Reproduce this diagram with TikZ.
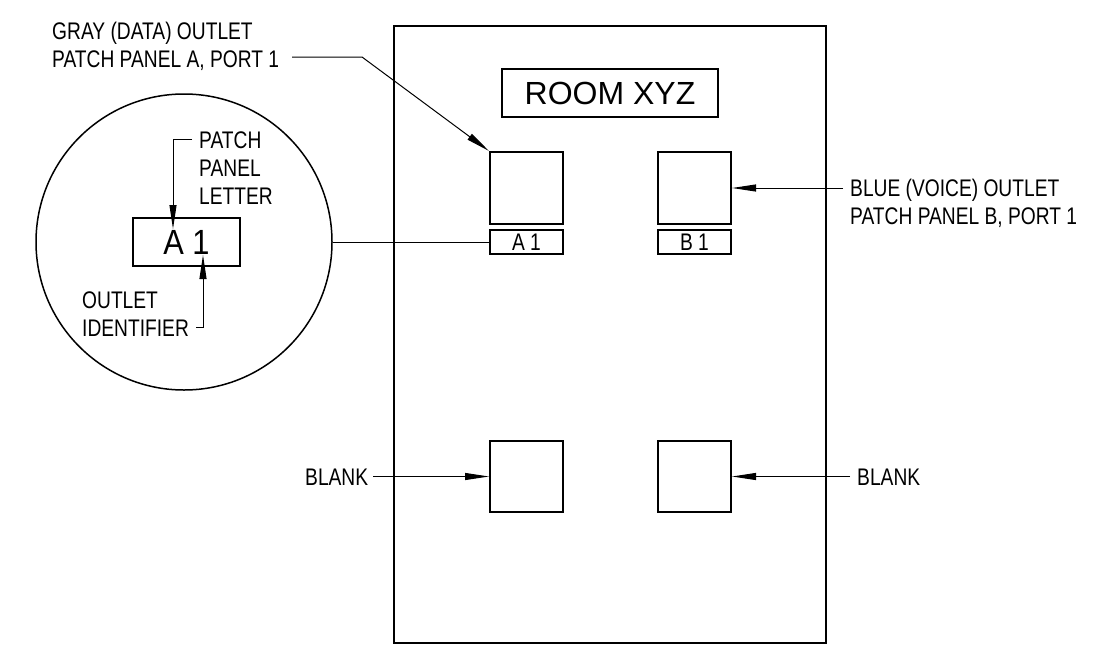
\documentclass[tikz,border=0pt]{standalone}
\usepackage{fontspec}
\setmainfont{Liberation Sans}
\newfontfamily\narrowfont[FakeStretch=0.8]{Liberation Sans}
\newfontfamily\tagfont[FakeStretch=0.88]{Liberation Sans}
\usetikzlibrary{arrows.meta, positioning, calc}
\tikzset{
  outlet/.style={
    draw,
    line width=2pt,
    minimum width=73pt,
    minimum height=72pt,
    inner sep=0pt
  },
  tag/.style={
    draw,
    line width=1.3pt,
    minimum width=73pt,
    minimum height=24pt,
    inner sep=0pt,
    font=\fontsize{24}{28}\selectfont\narrowfont
  },
  callout/.style={
    inner sep=0pt,
    align=left,
    anchor=base west,
    font=\fontsize{24}{28}\selectfont\narrowfont
  },
  leader/.style={
    line width=1pt
  },
  pointer/.style={
    leader,
    -{Triangle[length=24pt,width=7pt]}
  }
}

\begin{document}
\begin{tikzpicture}[x=1pt, y=-1pt]
  \useasboundingbox (0,0) rectangle (1099,648);
  % room plate
  \node[draw, line width=2pt, minimum width=432pt, minimum height=617pt, inner sep=0pt] (room) at (610,334.5) {};
  \node[draw, line width=1.3pt, minimum width=216pt, minimum height=48pt, inner sep=0pt,
        font=\fontsize{32}{36}\selectfont] (roomname) at (610,93) {ROOM XYZ};
  \node[outlet] (outA) at (526.5,188) {};
  \node[outlet] (outB) at (694.5,188) {};
  \node[tag] (tagA) at (526.5,242) {A 1};
  \node[tag] (tagB) at (694.5,242) {B 1};
  \node[outlet, minimum height=71pt] (blankA) at (526.5,476.5) {};
  \node[outlet, minimum height=71pt] (blankB) at (694.5,476.5) {};

  % detail circle
  \node[draw, circle, line width=1.5pt, minimum size=296pt, inner sep=0pt] (detail) at (184,242) {};
  \node[draw, line width=1.3pt, minimum width=107pt, minimum height=48pt, inner sep=0pt,
        font=\fontsize{35}{40}\selectfont\tagfont] (bigtag) at (186.5,242) {A 1};
  \draw[leader] (detail.east) -- (tagA.west);

  \node[callout] (letterLbl) at (199,204) {PATCH\\PANEL\\LETTER};
  \coordinate (letterEnd) at (192,139.5);
  \coordinate (letterBend) at (173,139.5);
  \coordinate (letterTip) at (173,229);
  \draw[pointer] (letterEnd) -- (letterBend) -- (letterTip);

  \node[callout] (identLbl) at (82,336) {OUTLET\\IDENTIFIER};
  \coordinate (identEnd) at (196,327);
  \coordinate (identBend) at (203,327);
  \coordinate (identTip) at (203,255);
  \draw[pointer] (identEnd) -- (identBend) -- (identTip);

  % callouts on the plate
  \node[callout] (grayLbl) at (52,67.5) {GRAY (DATA) OUTLET\\PATCH PANEL A, PORT 1};
  \coordinate (grayEnd) at (292,57);
  \coordinate (grayBend) at (362,57);
  \draw[pointer] (grayEnd) -- (grayBend) -- (outA.north west);

  \node[callout] (blueLbl) at (850,224.5) {BLUE (VOICE) OUTLET\\PATCH PANEL B, PORT 1};
  \coordinate (blueEnd) at (843,188);
  \draw[pointer] (blueEnd) -- (outB.east);

  \node[callout] (blankLblA) at (305,485) {BLANK};
  \node[callout] (blankLblB) at (857,485) {BLANK};
  \coordinate (blankEndA) at (373,476.5);
  \coordinate (blankEndB) at (850,476.5);
  \draw[pointer] (blankEndA) -- (blankA.west);
  \draw[pointer] (blankEndB) -- (blankB.east);
\end{tikzpicture}
\end{document}
